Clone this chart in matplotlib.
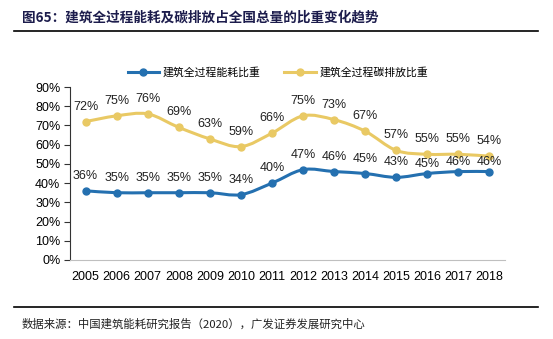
import matplotlib
matplotlib.use("Agg")
import matplotlib.pyplot as plt
from matplotlib.path import Path
from matplotlib.patches import PathPatch
from matplotlib.lines import Line2D
import numpy as np

years = ["2005", "2006", "2007", "2008", "2009", "2010", "2011", "2012",
         "2013", "2014", "2015", "2016", "2017", "2018"]
energy_share = [36, 35, 35, 35, 35, 34, 40, 47, 46, 45, 43, 45, 46, 46]
carbon_share = [72, 75, 76, 69, 63, 59, 66, 75, 73, 67, 57, 55, 55, 54]
series_names = ["建筑全过程能耗比重", "建筑全过程碳排放比重"]
yticks = [0, 10, 20, 30, 40, 50, 60, 70, 80, 90]

title = "图65：建筑全过程能耗及碳排放占全国总量的比重变化趋势"
source = "数据来源：中国建筑能耗研究报告（2020），广发证券发展研究中心"

BLUE = "#2470B0"
YELLOW = "#E9C964"

cjk = ["Noto Sans CJK SC", "DejaVu Sans"]
num = ["Liberation Sans", "DejaVu Sans"]

fig = plt.figure(figsize=(5.53, 3.39), dpi=100)
ax = fig.add_axes([70/553, 1-260/339, 435/553, (260-87)/339])

def smooth_path(xs, ys, t=0.5):
    xs = np.asarray(xs, float); ys = np.asarray(ys, float)
    n = len(xs)
    verts = [(xs[0], ys[0])]
    codes = [Path.MOVETO]
    for i in range(n-1):
        p0 = (xs[max(i-1, 0)], ys[max(i-1, 0)])
        p1 = (xs[i], ys[i]); p2 = (xs[i+1], ys[i+1])
        p3 = (xs[min(i+2, n-1)], ys[min(i+2, n-1)])
        c1 = (p1[0] + (p2[0]-p0[0])*t/3, p1[1] + (p2[1]-p0[1])*t/3)
        c2 = (p2[0] - (p3[0]-p1[0])*t/3, p2[1] - (p3[1]-p1[1])*t/3)
        verts += [c1, c2, p2]
        codes += [Path.CURVE4]*3
    return Path(verts, codes)

x = np.arange(len(years))
for k, (vals, color) in enumerate([(carbon_share, YELLOW), (energy_share, BLUE)]):
    ax.add_patch(PathPatch(smooth_path(x, vals), fill=False, edgecolor=color,
                           lw=2.2, capstyle="round", zorder=3))
    ax.plot(x, vals, "o", color=color, ms=5, zorder=4)
    for xi, v in zip(x, vals):
        off = 10.8
        if k == 1 and xi >= 11:
            off = 6.8
        ax.annotate(f"{v}%", (xi, v), xytext=(0, off), textcoords="offset points",
                    ha="center", va="center", fontsize=9, family=num, color="#222222",
                    zorder=5)

ax.set_xlim(-0.5, 13.5)
ax.set_ylim(0, 90)
ax.set_yticks(yticks)
ax.set_yticklabels([f"{v}%" for v in yticks], family=num, fontsize=9)
ax.set_xticks(x)
ax.set_xticklabels(years, family=num, fontsize=9)
ax.tick_params(axis="x", length=0, pad=8)
ax.tick_params(axis="y", length=4, direction="out", pad=3, color="#333333")
for s in ["top", "right"]:
    ax.spines[s].set_visible(False)
ax.spines["left"].set_color("#333333")
ax.spines["bottom"].set_color("#BFBFBF")

handles = [Line2D([], [], color=BLUE, lw=2.2, marker="o", ms=5),
           Line2D([], [], color=YELLOW, lw=2.2, marker="o", ms=5)]
fig.legend(handles, series_names, loc="center", bbox_to_anchor=(278/553, 1-72/339),
           ncol=2, frameon=False, prop={"family": cjk, "size": 7.8},
           handlelength=2.9, columnspacing=2.2, handletextpad=0.35)

fig.text(22/553, 1-18/339, title, family=cjk, fontsize=9.8, fontweight="bold",
         color="#1C1C4C", va="center", ha="left")
fig.add_artist(Line2D([14/553, 538/553], [1-31/339, 1-31/339], color="black", lw=1.2))
fig.add_artist(Line2D([14/553, 538/553], [1-307/339, 1-307/339], color="black", lw=1.2))
fig.text(22/553, 1-324/339, source, family=cjk, fontsize=8.2, color="#222222",
         va="center", ha="left")

fig.savefig("out.png", dpi=100)
